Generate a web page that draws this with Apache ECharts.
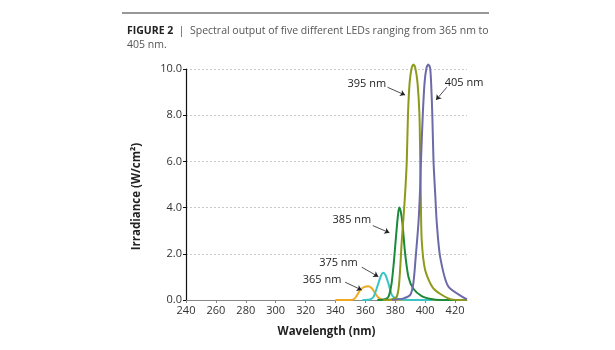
<!DOCTYPE html>
<html>
<head>
<meta charset="utf-8">
<script src="https://cdn.jsdelivr.net/npm/echarts@6/dist/echarts.min.js"></script>
<style>
  html, body { margin: 0; padding: 0; background: #fff; }
  #chart { width: 615px; height: 350px; }
</style>
</head>
<body>
<div id="chart"></div>
<script>
// wavelength (nm) / irradiance pairs
const led365 = [[340, 0], [350, 0], [353, 0.07], [356.5, 0.43], [359, 0.56], [362, 0.6], [364.5, 0.5], [366.5, 0.29], [368.5, 0.12], [370.5, 0.04], [374, 0], [428, 0]];
const led375 = [[358, 0], [363, 0.02], [365.5, 0.14], [368.7, 0.72], [370.5, 1.06], [372, 1.18], [373.6, 1.06], [375.4, 0.72], [377.7, 0.22], [380, 0.07], [383, 0.02], [390, 0], [405, 0]];
const led385 = [[368, 0], [373, 0.03], [375.5, 0.15], [377.5, 0.7], [379, 1.6], [380.5, 2.75], [381.7, 3.6], [382.6, 4.0], [383.6, 3.85], [384.8, 3.32], [386.6, 2.02], [388.8, 1.01], [392, 0.5], [397.7, 0.17], [404, 0.04], [410, 0], [428, 0]];
const led395 = [[372, 0], [378, 0.03], [381, 0.14], [382.6, 0.72], [384.4, 2.6], [386.3, 4.3], [387.7, 6.0], [388.5, 8.0], [389.6, 9.4], [391, 10.05], [392.2, 10.2], [393.4, 10.05], [394.9, 9.4], [396.2, 8.0], [396.7, 6.0], [397.1, 4.5], [397.7, 2.6], [400, 1.3], [405.5, 0.5], [415.5, 0.07], [423, 0], [428, 0]];
const led405 = [[378, 0], [385.5, 0.07], [390, 0.22], [392.1, 0.72], [393.7, 1.88], [395.5, 3.32], [396.6, 4.76], [397.2, 6.0], [398.4, 8.0], [399.6, 9.4], [400.9, 10.05], [402.1, 10.2], [403.3, 10.05], [404.0, 9.4], [404.8, 8.0], [405.6, 6.0], [406.8, 4.5], [407.8, 3.32], [410, 1.88], [415.5, 0.58], [426.7, 0.07], [428, 0.03]];

const seriesNames = ["365 nm", "375 nm", "385 nm", "395 nm", "405 nm"];
const seriesColors = ["#f2a922", "#38c4c4", "#1b8a3a", "#8e9a1a", "#6c6aa8"];
// label centre, arrow start, arrow end (data units)
const labelPos = [[331, 0.87], [342, 1.61], [351, 3.46], [361, 9.34], [426, 9.42]];
const arrowFrom = [[346.5, 0.77], [357.6, 1.42], [365, 3.22], [374.8, 9.21], [414.5, 9.21]];
const arrowTo = [[357.6, 0.43], [368.7, 1.01], [376.1, 2.91], [386.6, 8.87], [407.3, 8.66]];

const xTicks = { min: 240, max: 428, interval: 20 };
const yTicks = { min: 0, max: 10, interval: 2 };

const allData = [led365, led375, led385, led395, led405];

const chart = echarts.init(document.getElementById("chart"));

const series = allData.map((d, i) => ({
  name: seriesNames[i],
  type: "line",
  data: d,
  smooth: 0.25,
  clip: false,
  showSymbol: false,
  z: 2 + i,
  lineStyle: { width: 2, color: seriesColors[i] },
  itemStyle: { color: seriesColors[i] },
  markPoint: {
    symbol: "circle",
    symbolSize: 0,
    silent: true,
    label: {
      show: true,
      position: "inside",
      color: "#222",
      fontSize: 11,
      fontFamily: "Open Sans",
      formatter: seriesNames[i]
    },
    data: [{ coord: labelPos[i] }]
  },
  markLine: {
    silent: true,
    symbol: ["none", "arrow"],
    symbolSize: 5,
    label: { show: false },
    lineStyle: { color: "#222", width: 0.8, type: "solid" },
    data: [[{ coord: arrowFrom[i] }, { coord: arrowTo[i] }]]
  }
}));

chart.setOption({
  backgroundColor: "#fff",
  animation: false,
  textStyle: { fontFamily: "Open Sans" },
  title: {
    left: 122,
    top: 19,
    text: "{fig|FIGURE 2}  |  Spectral output of five different LEDs ranging from 365 nm to\n405 nm.",
    textStyle: {
      fontSize: 10.5,
      fontWeight: "normal",
      color: "#555",
      lineHeight: 14,
      fontFamily: "Open Sans",
      rich: {
        fig: { fontSize: 10.5, fontWeight: "bold", color: "#222", fontFamily: "Liberation Sans Narrow, Open Sans" }
      }
    }
  },
  graphic: [
    {
      type: "line",
      shape: { x1: 122, y1: 13, x2: 489, y2: 13 },
      style: { stroke: "#333", lineWidth: 1.2 }
    }
  ],
  grid: { left: 186, right: 148, top: 69, bottom: 50 },
  xAxis: {
    type: "value",
    min: xTicks.min,
    max: xTicks.max,
    interval: xTicks.interval,
    name: "Wavelength (nm)",
    nameLocation: "middle",
    nameGap: 26,
    nameTextStyle: { fontSize: 11.5, fontWeight: "bold", color: "#222" },
    axisLine: { show: true, lineStyle: { color: "#888" } },
    axisTick: { show: true, length: 3, lineStyle: { color: "#888" } },
    axisLabel: { color: "#333", fontSize: 11, margin: 5, showMaxLabel: false },
    splitLine: { show: false }
  },
  yAxis: {
    type: "value",
    min: yTicks.min,
    max: yTicks.max,
    interval: yTicks.interval,
    name: "Irradiance (W/cm²)",
    nameLocation: "middle",
    nameGap: 43,
    nameTextStyle: { fontSize: 11.5, fontWeight: "bold", color: "#222", padding: [0, 24, 0, 0] },
    axisLine: { show: true, lineStyle: { color: "#111", width: 1.2 } },
    axisTick: { show: true, length: 3, lineStyle: { color: "#111" } },
    axisLabel: { color: "#333", fontSize: 11, margin: 4, formatter: v => v.toFixed(1) },
    splitLine: { show: true, lineStyle: { color: "#c8c8c8", type: [2, 2] } }
  },
  series: series
});
</script>
</body>
</html>
